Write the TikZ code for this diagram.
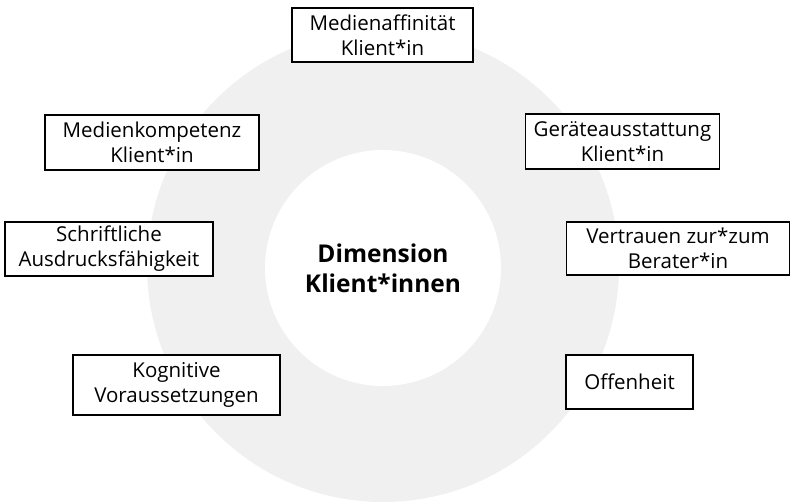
\documentclass[tikz,border=0pt]{standalone}
\usepackage{fontspec}
\setmainfont{Open Sans}
\definecolor{ringgrau}{RGB}{240,240,240}

\begin{document}
\begin{tikzpicture}[x=1pt, y=-1pt]
\tikzset{kasten/.style={draw, line width=1.4pt, fill=white, align=center, inner sep=0pt,
  font=\fontsize{20.5}{25}\selectfont}}
\useasboundingbox (0, 0) rectangle (791, 502);
\fill[ringgrau] (383, 266) circle (236pt);
\fill[white] (383, 268) circle (118pt);
\node[align=center, font=\bfseries\fontsize{24.5}{30}\selectfont] (D) at (383, 268) {Dimension\\Klient*innen};
\node[kasten, minimum width=181pt, minimum height=54pt] (K1) at (382.5, 35) {Medienaffinität\\Klient*in};
\node[kasten, minimum width=214pt, minimum height=55pt] (K2) at (152, 142.5) {Medienkompetenz\\Klient*in};
\node[kasten, minimum width=194pt, minimum height=55pt] (K3) at (622.5, 141.5) {Geräteausstattung\\Klient*in};
\node[kasten, minimum width=208pt, minimum height=54pt] (K4) at (109, 249) {Schriftliche\\Ausdrucksfähigkeit};
\node[kasten, minimum width=223pt, minimum height=53pt] (K5) at (678, 248.5) {Vertrauen zur*zum\\Berater*in};
\node[kasten, minimum width=207pt, minimum height=60pt] (K6) at (176.5, 385) {Kognitive\\Voraussetzungen};
\node[kasten, minimum width=127pt, minimum height=54pt] (K7) at (629.5, 382) {Offenheit};
\end{tikzpicture}
\end{document}
